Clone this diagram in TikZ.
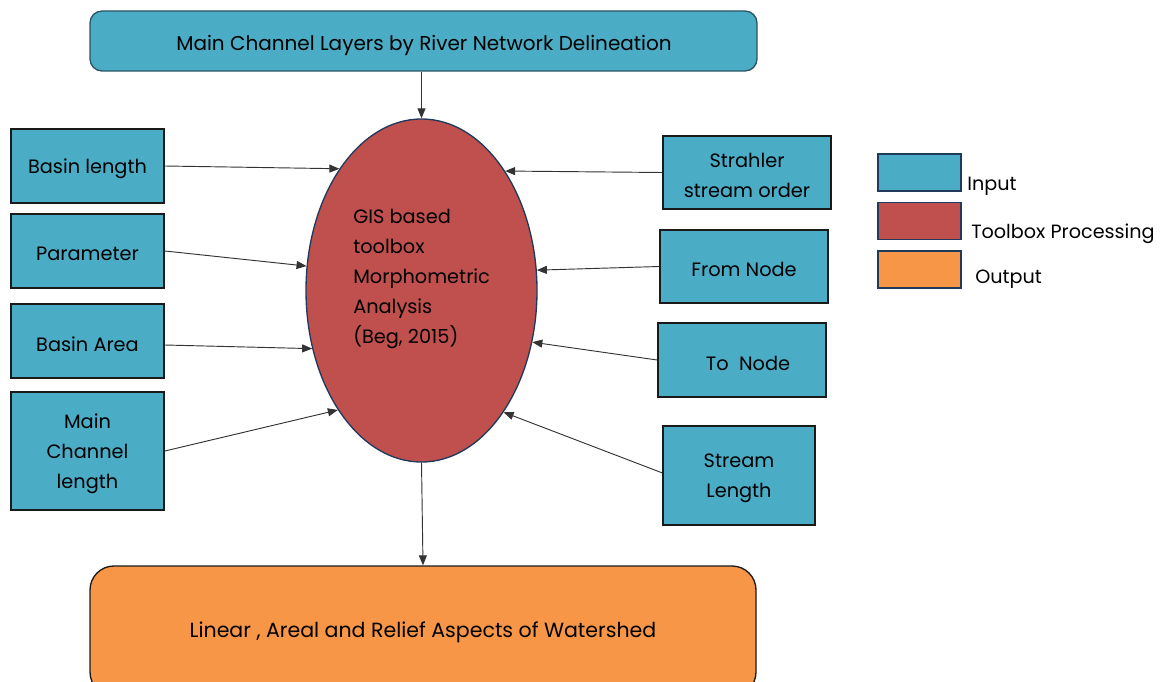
\documentclass[tikz,border=0pt]{standalone}
\usepackage{fontspec}
\setmainfont{Poppins}
\usetikzlibrary{arrows.meta,shapes.geometric}
\definecolor{inblue}{HTML}{4BACC6}
\definecolor{procred}{HTML}{C0504D}
\definecolor{outorange}{HTML}{F79646}
\definecolor{navyline}{HTML}{1F3A5C}
\definecolor{tealline}{HTML}{2A5566}
\definecolor{boxline}{HTML}{1A1A1A}
\tikzset{
  inbox/.style={draw=boxline, line width=1.4pt, fill=inblue, inner sep=0pt},
  inlab/.style={align=center, inner sep=0pt, yshift=-2.4pt, font=\fontsize{14.5}{22.5}\selectfont},
  wide/.style={draw=#1, line width=1pt, inner sep=0pt},
  widetext/.style={inner sep=0pt, font=\fontsize{#1}{17}\selectfont},
  legbox/.style={draw=navyline, line width=1.2pt, inner sep=0pt, minimum width=62.25pt, minimum height=27.75pt},
  legtext/.style={anchor=west, inner sep=0pt, font=\fontsize{14.4}{16}\selectfont},
  conn/.style={draw=black!80, line width=0.7pt, -{Triangle[length=7.5pt,width=6pt]}},
}
\begin{document}
\begin{tikzpicture}[x=0.75pt,y=-0.75pt]
\useasboundingbox (0,0) rectangle (1169,681);
\clip (0,0) rectangle (1169,681);
% top and bottom
\node[wide=tealline, fill=inblue, rounded corners=9pt, minimum width=500.25pt, minimum height=45pt] (top) at (423.5,41) {};
\node[widetext=15] (toptext) at (424,45) {Main Channel Layers by River Network Delineation};
\node[wide=boxline, fill=outorange, rounded corners=18pt, minimum width=499.5pt, minimum height=97.5pt] (out) at (423,631) {};
\node[widetext=15.4] (outtext) at (423,632) {Linear , Areal and Relief Aspects of Watershed};
% ellipse
\node[ellipse, draw=navyline, line width=1pt, fill=procred, minimum width=173.25pt, minimum height=257.25pt, inner sep=0pt] (ell) at (421.5,290.5) {};
\node[anchor=west, align=left, inner sep=0pt, font=\fontsize{14.5}{22.5}\selectfont] (elltext) at (353,279) {GIS based\\toolbox\\Morphometric\\Analysis\\(Beg, 2015)};
% left inputs
\node[inbox, minimum width=114.75pt, minimum height=55.5pt, label={[inlab]center:Basin length}] (bl) at (87.5,166) {};
\node[inbox, minimum width=114.75pt, minimum height=55.5pt, label={[inlab]center:Parameter}] (par) at (87.5,251) {};
\node[inbox, minimum width=114.75pt, minimum height=55.5pt, label={[inlab]center:Basin Area}] (ba) at (87.5,341) {};
\node[inbox, minimum width=114.75pt, minimum height=88.5pt, label={[inlab]center:Main\\Channel\\length}] (mcl) at (87.5,451) {};
% right inputs
\node[inbox, minimum width=126pt, minimum height=54.75pt, label={[inlab]center:Strahler\\stream order}] (sso) at (747,172.5) {};
\node[inbox, minimum width=126pt, minimum height=54.75pt, label={[inlab]center:From Node}] (fn) at (744,266.5) {};
\node[inbox, minimum width=126pt, minimum height=55.5pt, label={[inlab, xshift=4.5pt]center:To\ \ Node}] (tn) at (742,360) {};
\node[inbox, minimum width=114pt, minimum height=74.25pt, label={[inlab]center:Stream\\Length}] (sl) at (739,475.5) {};
% legend
\node[legbox, fill=inblue] (lg1) at (919.5,172.5) {};
\node[legbox, fill=procred] (lg2) at (919.5,221) {};
\node[legbox, fill=outorange] (lg3) at (919.5,269.5) {};
\node[legtext] (lt1) at (967,186) {Input};
\node[legtext] (lt2) at (971,234) {Toolbox Processing};
\node[legtext] (lt3) at (975,279) {Output};
% connectors
\draw[conn] (ell.north |- top.south) -- (ell.north);
\draw[conn] (bl.east) -- (ell.124.4);
\draw[conn] (par.east) -- (ell.168.3);
\draw[conn] ([yshift=-3pt]ba.east) -- (ell.208);
\draw[conn] (mcl.east) -- (ell.235.8);
\draw[conn] (sso.west) -- (ell.55.5);
\draw[conn] (fn.west) -- (ell.10.1);
\draw[conn] (tn.west) -- (ell.335.3);
\draw[conn] ([yshift=2pt]sl.west) -- (ell.304.4);
\draw[conn] (ell.south) -- (out.north);
\end{tikzpicture}
\end{document}
